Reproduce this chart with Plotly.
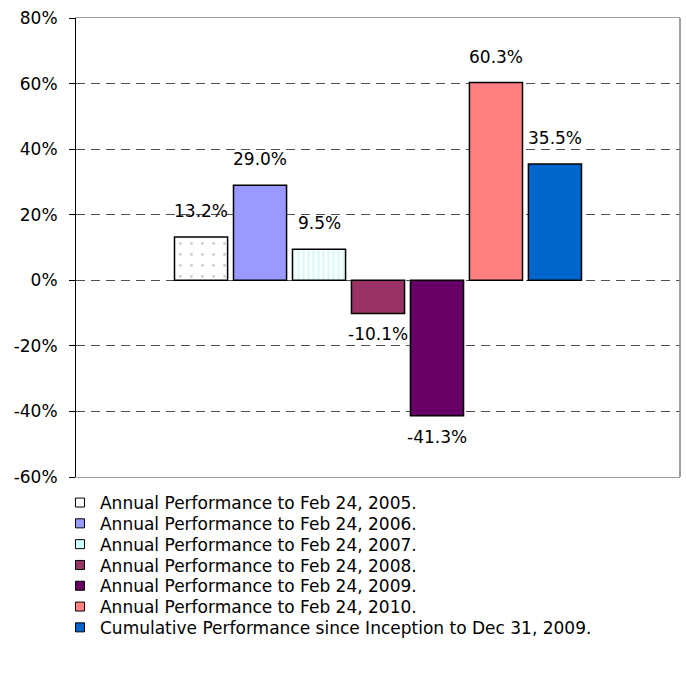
import plotly.graph_objects as go

series_names = [
    "Annual Performance to Feb 24, 2005.",
    "Annual Performance to Feb 24, 2006.",
    "Annual Performance to Feb 24, 2007.",
    "Annual Performance to Feb 24, 2008.",
    "Annual Performance to Feb 24, 2009.",
    "Annual Performance to Feb 24, 2010.",
    "Cumulative Performance since Inception to Dec 31, 2009.",
]
values = [13.2, 29.0, 9.5, -10.1, -41.3, 60.3, 35.5]
value_labels = ["13.2%", "29.0%", "9.5%", "-10.1%", "-41.3%", "60.3%", "35.5%"]
colors = ["#FFFFFF", "#9999FF", "#CCFFFF", "#993366", "#660066", "#FF8080", "#0066CC"]
bar_fill = ["#FFFFFF", "#9999FF", "#FFFFFF", "#993366", "#660066", "#FF8080", "#0066CC"]
pattern_shapes = [".", "", "|", "", "", "", ""]
pattern_fg = ["#9A9A9A", None, "#B8F6F6", None, None, None, None]
pattern_size = [11, 8, 5, 8, 8, 8, 8]
pattern_solidity = [0.05, 0.3, 0.5, 0.3, 0.3, 0.3, 0.3]
y_ticks = [-60, -40, -20, 0, 20, 40, 60, 80]
y_tick_labels = ["-60%", "-40%", "-20%", "0%", "20%", "40%", "60%", "80%"]

FONT = "DejaVu Sans"

# geometry of the plot area (pixels)
PLOT_TOP, PLOT_BOTTOM = 18, 477
legend_rows_px = [503, 523.8, 544.6, 565.4, 586.2, 607, 627.8]

fig = go.Figure()
for i, (name, v) in enumerate(zip(series_names, values)):
    pat = dict(shape=pattern_shapes[i])
    if pattern_shapes[i]:
        pat.update(fgcolor=pattern_fg[i], size=pattern_size[i],
                   solidity=pattern_solidity[i], fillmode="overlay")
    fig.add_trace(go.Bar(
        x=[name], y=[v],
        marker=dict(color=bar_fill[i], line=dict(color="#000000", width=1.5), pattern=pat),
        showlegend=False, hoverinfo="skip",
    ))

for i, (name, col) in enumerate(zip(series_names, colors)):
    fig.add_trace(go.Scatter(
        x=[None], y=[None], mode="markers", name=name,
        legend="legend" if i == 0 else f"legend{i + 1}",
        marker=dict(symbol="square", size=9, color=col, line=dict(color="#000000", width=1)),
    ))

for name, v, lab in zip(series_names, values, value_labels):
    fig.add_annotation(
        x=name, y=v, text=lab, showarrow=False,
        yshift=26 if v >= 0 else -21, yanchor="middle",
        font=dict(family=FONT, size=17, color="#000000"),
    )

legend_layout = {}
for i, row in enumerate(legend_rows_px):
    key = "legend" if i == 0 else f"legend{i + 1}"
    legend_layout[key] = dict(
        x=-0.0265, y=(PLOT_BOTTOM - row) / (PLOT_BOTTOM - PLOT_TOP),
        xanchor="left", yanchor="middle",
        font=dict(family=FONT, size=17, color="#000000"),
        bgcolor="rgba(0,0,0,0)",
    )

fig.update_layout(
    width=686, height=675,
    margin=dict(l=76, r=6, t=PLOT_TOP, b=675 - PLOT_BOTTOM),
    paper_bgcolor="#FFFFFF", plot_bgcolor="#FFFFFF",
    font=dict(family=FONT, size=17, color="#000000"),
    barmode="overlay",
    bargap=0.1,
    showlegend=True,
    **legend_layout,
)
fig.update_xaxes(
    type="category", range=[-2.12, 8.12], showticklabels=False, ticks="",
    showgrid=False, zeroline=False,
    showline=True, mirror=True, linecolor="#A0A0A0", linewidth=1,
)
fig.update_yaxes(
    range=[-60, 80], tickvals=y_ticks, ticktext=y_tick_labels,
    showgrid=True, gridcolor="#505050", griddash="9px,6px", gridwidth=1,
    zeroline=False,
    showline=True, linecolor="#000000", linewidth=1,
    ticks="outside", ticklen=6, tickcolor="#000000", ticklabelstandoff=8,
)
fig.add_shape(type="line", xref="paper", yref="paper", x0=1, x1=1, y0=0, y1=1,
              line=dict(color="#808080", width=1.5))

fig.write_html("out.html", config={"displayModeBar": False},
               post_script="document.body.style.margin='0px';")
